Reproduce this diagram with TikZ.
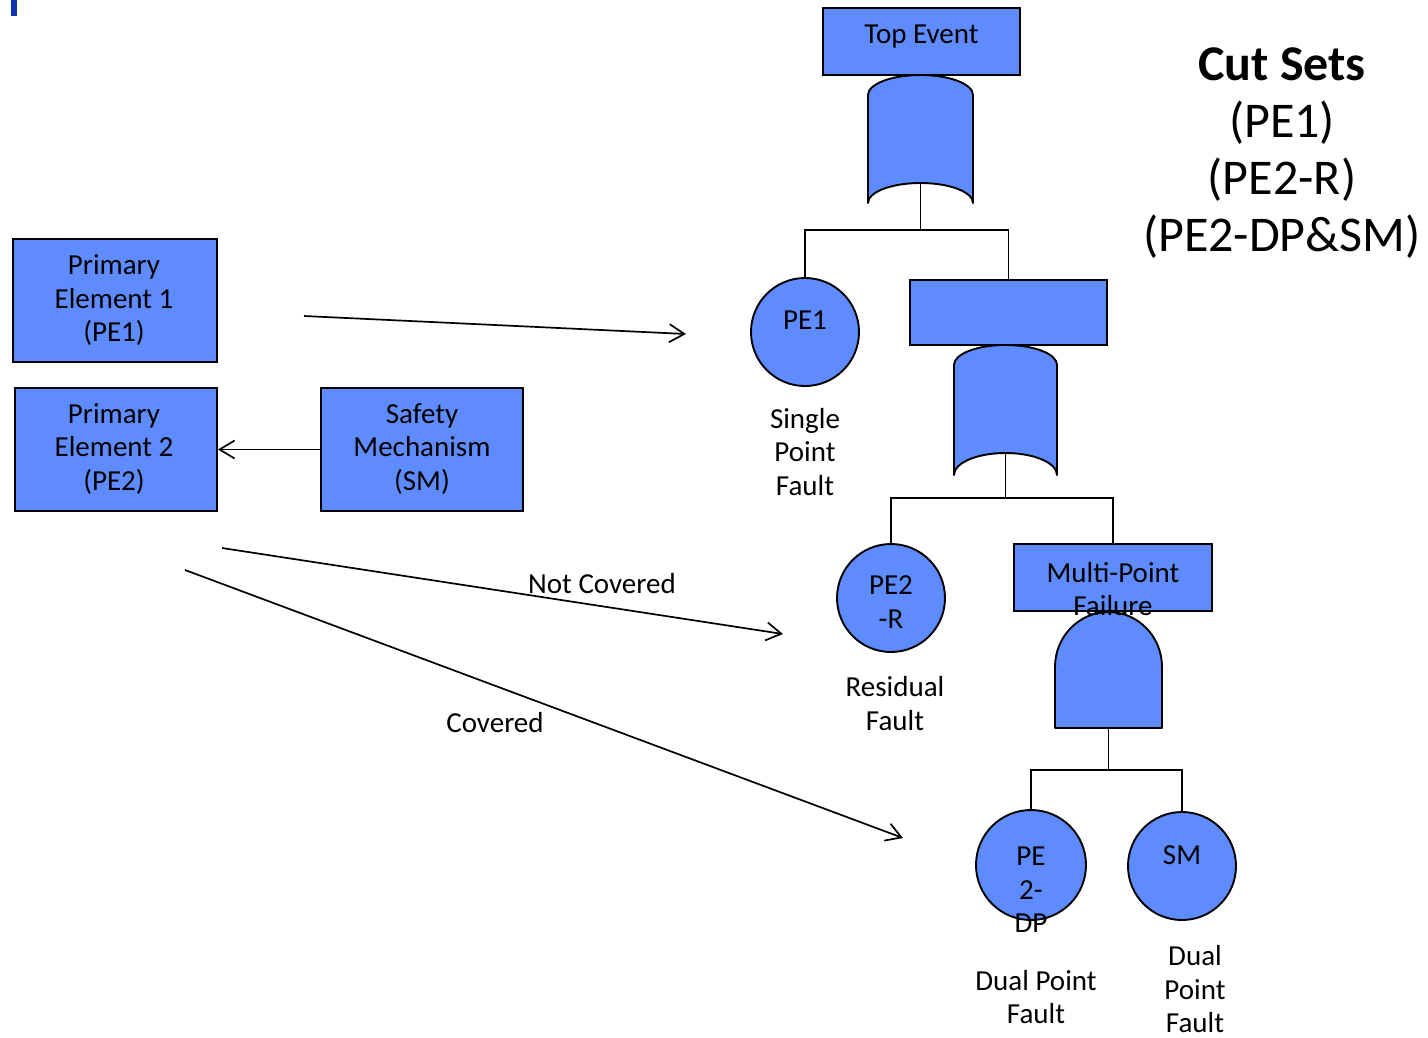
\documentclass[tikz,border=0pt]{standalone}
\usepackage{fontspec}
\setmainfont{Carlito}
\usetikzlibrary{arrows.meta}
\definecolor{evfill}{RGB}{94,140,255}
\definecolor{cornermark}{RGB}{16,52,176}
\begin{document}
\begin{tikzpicture}[x=1pt,y=-1pt,
  outline/.style={draw=black, line width=1.9pt},
  box/.style={outline, fill=evfill, inner sep=0, rectangle},
  event/.style={outline, fill=evfill, circle, inner sep=0, minimum size=108},
  gate/.style={outline, fill=evfill, line join=round},
  wire/.style={draw=black, line width=1.9pt},
  arr/.style={draw=black, line width=1.7pt, -{Straight Barb[length=15pt,width=18pt,line width=1.7pt]}},
  txt/.style={inner sep=0, align=center, font=\fontsize{29}{33.5}\selectfont},
  bigtxt/.style={inner sep=0, align=center, font=\fontsize{50}{57}\selectfont}]
\useasboundingbox (0,0) rectangle (1428,1037);

% corner mark
\fill[cornermark] (11,0) rectangle (17,16);

% left-hand blocks
\node[box, minimum width=204, minimum height=123] (pe1box) at (115,300.5) {};
\node[box, minimum width=202, minimum height=123] (pe2box) at (116,449.5) {};
\node[box, minimum width=202, minimum height=123] (smbox) at (422,449.5) {};
\node[txt] at (114,300.5) {Primary\\Element 1\\(PE1)};
\node[txt] at (114,449) {Primary\\Element 2\\(PE2)};
\node[txt] at (422,449) {Safety\\Mechanism\\(SM)};

\draw[arr] (smbox.west) -- (pe2box.east);

% mapping arrows
\coordinate (a1s) at (304,316);
\coordinate (a1e) at (686,334);
\coordinate (a2s) at (222,548);
\coordinate (a2e) at (783,634);
\coordinate (a3s) at (185,570);
\coordinate (a3e) at (903,838);
\draw[arr] (a1s) -- (a1e);
\draw[arr] (a2s) -- (a2e);
\draw[arr] (a3s) -- (a3e);
\node[txt] (ncov) at (602,584) {Not Covered};
\node[txt] (cov) at (495,723) {Covered};

% top event and OR gate
\node[box, minimum width=197, minimum height=67] (top) at (921.5,41.5) {};
\draw[gate] (868,95) .. controls (868,84) and (891.5,75) .. (920.5,75)
  .. controls (949.5,75) and (973,84) .. (973,95) -- (973,203)
  .. controls (973,192) and (949.5,183) .. (920.5,183)
  .. controls (891.5,183) and (868,192) .. (868,203) -- cycle;
\coordinate (g1out) at (920.5,183);
\coordinate (bus1) at (920.5,230);

% first level
\node[event] (pe1) at (805,332) {};
\node[box, minimum width=197, minimum height=65] (mid) at (1008.5,312.5) {};
\draw[wire] (g1out) -- (bus1);
\draw[wire] (pe1.north) |- (bus1) -| (mid.north);

% second OR gate
\draw[gate] (954,365) .. controls (954,354) and (976.7,345) .. (1005.5,345)
  .. controls (1034.3,345) and (1057,354) .. (1057,365) -- (1057,475)
  .. controls (1057,463) and (1034.3,453) .. (1005.5,453)
  .. controls (976.7,453) and (954,463) .. (954,475) -- cycle;
\coordinate (g2out) at (1005.5,453);
\coordinate (bus2) at (1005.5,498);

% second level
\node[event] (pe2r) at (891,598) {};
\node[box, minimum width=198, minimum height=67] (mpf) at (1113,577.5) {};
\draw[wire] (g2out) -- (bus2);
\draw[wire] (pe2r.north) |- (bus2) -| (mpf.north);

% AND gate
\draw[gate] (1055,667) .. controls (1055,636.6) and (1079,612) .. (1108.5,612)
  .. controls (1138,612) and (1162,636.6) .. (1162,667) -- (1162,728)
  -- (1055,728) -- cycle;
\coordinate (g3out) at (1108.5,728);
\coordinate (bus3) at (1108.5,770);

% third level
\node[event, minimum size=110] (pe2dp) at (1031,865) {};
\node[event] (sm2) at (1182,866) {};
\draw[wire] (g3out) -- (bus3);
\draw[wire] (pe2dp.north) |- (bus3) -| (sm2.north);

% labels of the tree
\node[txt] at (921.5,36.5) {Top Event};
\node[txt] at (805,320) {PE1};
\node[txt] at (805,452) {Single\\Point\\Fault};
\node[txt] at (891,602) {PE2\\-R};
\node[txt] at (895,703.5) {Residual\\Fault};
\node[txt] at (1113,589) {Multi-Point\\Failure};
\node[txt] at (1031,890) {PE\\2-\\DP};
\node[txt] at (1182,855) {SM};
\node[txt] at (1036,997) {Dual Point\\Fault};
\node[txt] at (1195,989.5) {Dual\\Point\\Fault};

% cut sets
\node[bigtxt] (cuts) at (1282,153) {\textbf{Cut Sets}\\(PE1)\\(PE2-R)\\(PE2-DP\&SM)};
\end{tikzpicture}
\end{document}
